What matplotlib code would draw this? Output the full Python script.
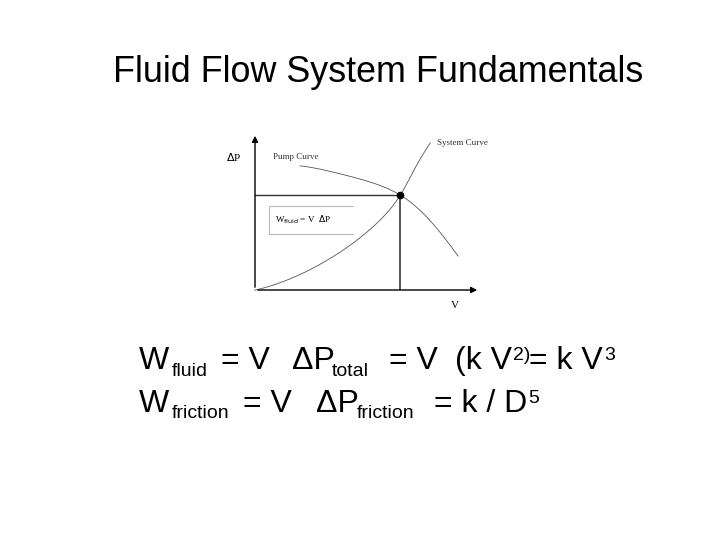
import matplotlib.pyplot as plt
import numpy as np

# curve points (V, dP), arbitrary units 0..10
pump_v = [2.0, 3.2, 4.36, 5.56, 6.44, 7.64, 9.02]
pump_p = [7.9, 7.64, 7.13, 6.69, 6.05, 4.65, 2.17]
sys_v = [0.0, 2.44, 4.53, 5.69, 6.44, 7.02, 7.78]
sys_p = [0.0, 1.27, 3.18, 4.65, 6.05, 7.45, 9.36]
op_v, op_p = 6.44, 6.05

W, H = 720, 540
fig = plt.figure(figsize=(7.2, 5.4), dpi=100)
fig.patch.set_facecolor('white')

def fx(x):
    return x / W

def fy(y):
    return 1 - y / H

# title
fig.text(fx(378), fy(82), 'Fluid Flow System Fundamentals', ha='center', va='baseline',
         fontsize=25.8, family='Liberation Sans')

# chart
ax = fig.add_axes([fx(255), fy(290), 225 / W, 157 / H])
ax.set_xlim(0, 10)
ax.set_ylim(0, 10)
ax.axis('off')

ax.annotate('', xy=(0, 10), xytext=(0, 0),
            arrowprops=dict(arrowstyle='-|>', color='black', lw=1.0, mutation_scale=9), annotation_clip=False)
ax.annotate('', xy=(10, 0), xytext=(0, 0),
            arrowprops=dict(arrowstyle='-|>', color='black', lw=1.0, mutation_scale=9), annotation_clip=False)

def smooth(xs, ys, n=200):
    xs = np.array(xs)
    ys = np.array(ys)
    t = np.linspace(0, 1, len(xs))
    tt = np.linspace(0, 1, n)
    cx = np.polyfit(t, xs, 4)
    cy = np.polyfit(t, ys, 4)
    return np.polyval(cx, tt), np.polyval(cy, tt)

px, py = smooth(pump_v, pump_p)
sx, sy = smooth(sys_v, sys_p)
ax.plot(px, py, color='#555555', lw=0.6, clip_on=False)
ax.plot(sx, sy, color='#555555', lw=0.6, clip_on=False)

ax.plot([0, op_v], [op_p, op_p], color='#333333', lw=1.0)
ax.plot([op_v, op_v], [0, op_p], color='#555555', lw=1.4)
ax.plot([op_v], [op_p], 'o', color='black', ms=4.5)

# box with W_fluid label
bx0, bx1 = (269 - 255) / 22.5, (353 - 255) / 22.5
by0, by1 = (290 - 234) / 15.7, (290 - 206) / 15.7
ax.plot([bx1, bx0, bx0, bx1], [by1, by1, by0, by0], color='#bbbbbb', lw=0.8)
ax.text(bx0 + 0.25, (by0 + by1) / 2, r'W$_{\rm fluid}$ = V  $\Delta$P', fontsize=6.5,
        family='Liberation Serif', va='center')

ax.text(-1.3, 8.5, r'$\Delta$P', fontsize=8, family='Liberation Serif', va='center')
ax.text(0.8, 8.5, 'Pump Curve', fontsize=6.5, family='Liberation Serif', va='center', color='#333333')
ax.text(8.1, 9.35, 'System Curve', fontsize=6.5, family='Liberation Serif', va='center', color='#333333')
ax.text(8.7, -1.0, 'V', fontsize=8, family='Liberation Serif', va='center')

# equations (text pieces placed in pixels; x=None means right after the previous piece)
big, sub, sup = 23, 14, 14
pieces = [
    ('W', 139, 369, big), ('fluid', 172, 376, sub), ('= V', 221, 369, big),
    ('\u0394P', 292, 369, big), ('total', 332, 376, sub), ('= V', 389, 369, big),
    ('(k V', 455, 369, big), ('2)', None, 360, sup), ('= k V', 529, 369, big),
    ('3', None, 360, sup),
    ('W', 139, 412, big), ('friction', 172, 418, sub), ('= V', 243, 412, big),
    ('\u0394P', 316, 412, big), ('friction', 357, 418, sub), ('= k / D', 434, 412, big),
    ('5', None, 403, sup),
]
renderer = fig.canvas.get_renderer()
prev = None
for s, x, y, size in pieces:
    if x is None:
        x = prev.get_window_extent(renderer).x1 + 1
        t = fig.text(x / W, fy(y), s, fontsize=size, family='Liberation Sans', va='baseline', ha='left')
    else:
        t = fig.text(fx(x), fy(y), s, fontsize=size, family='Liberation Sans', va='baseline', ha='left')
    prev = t

fig.savefig('out.png', dpi=100)
